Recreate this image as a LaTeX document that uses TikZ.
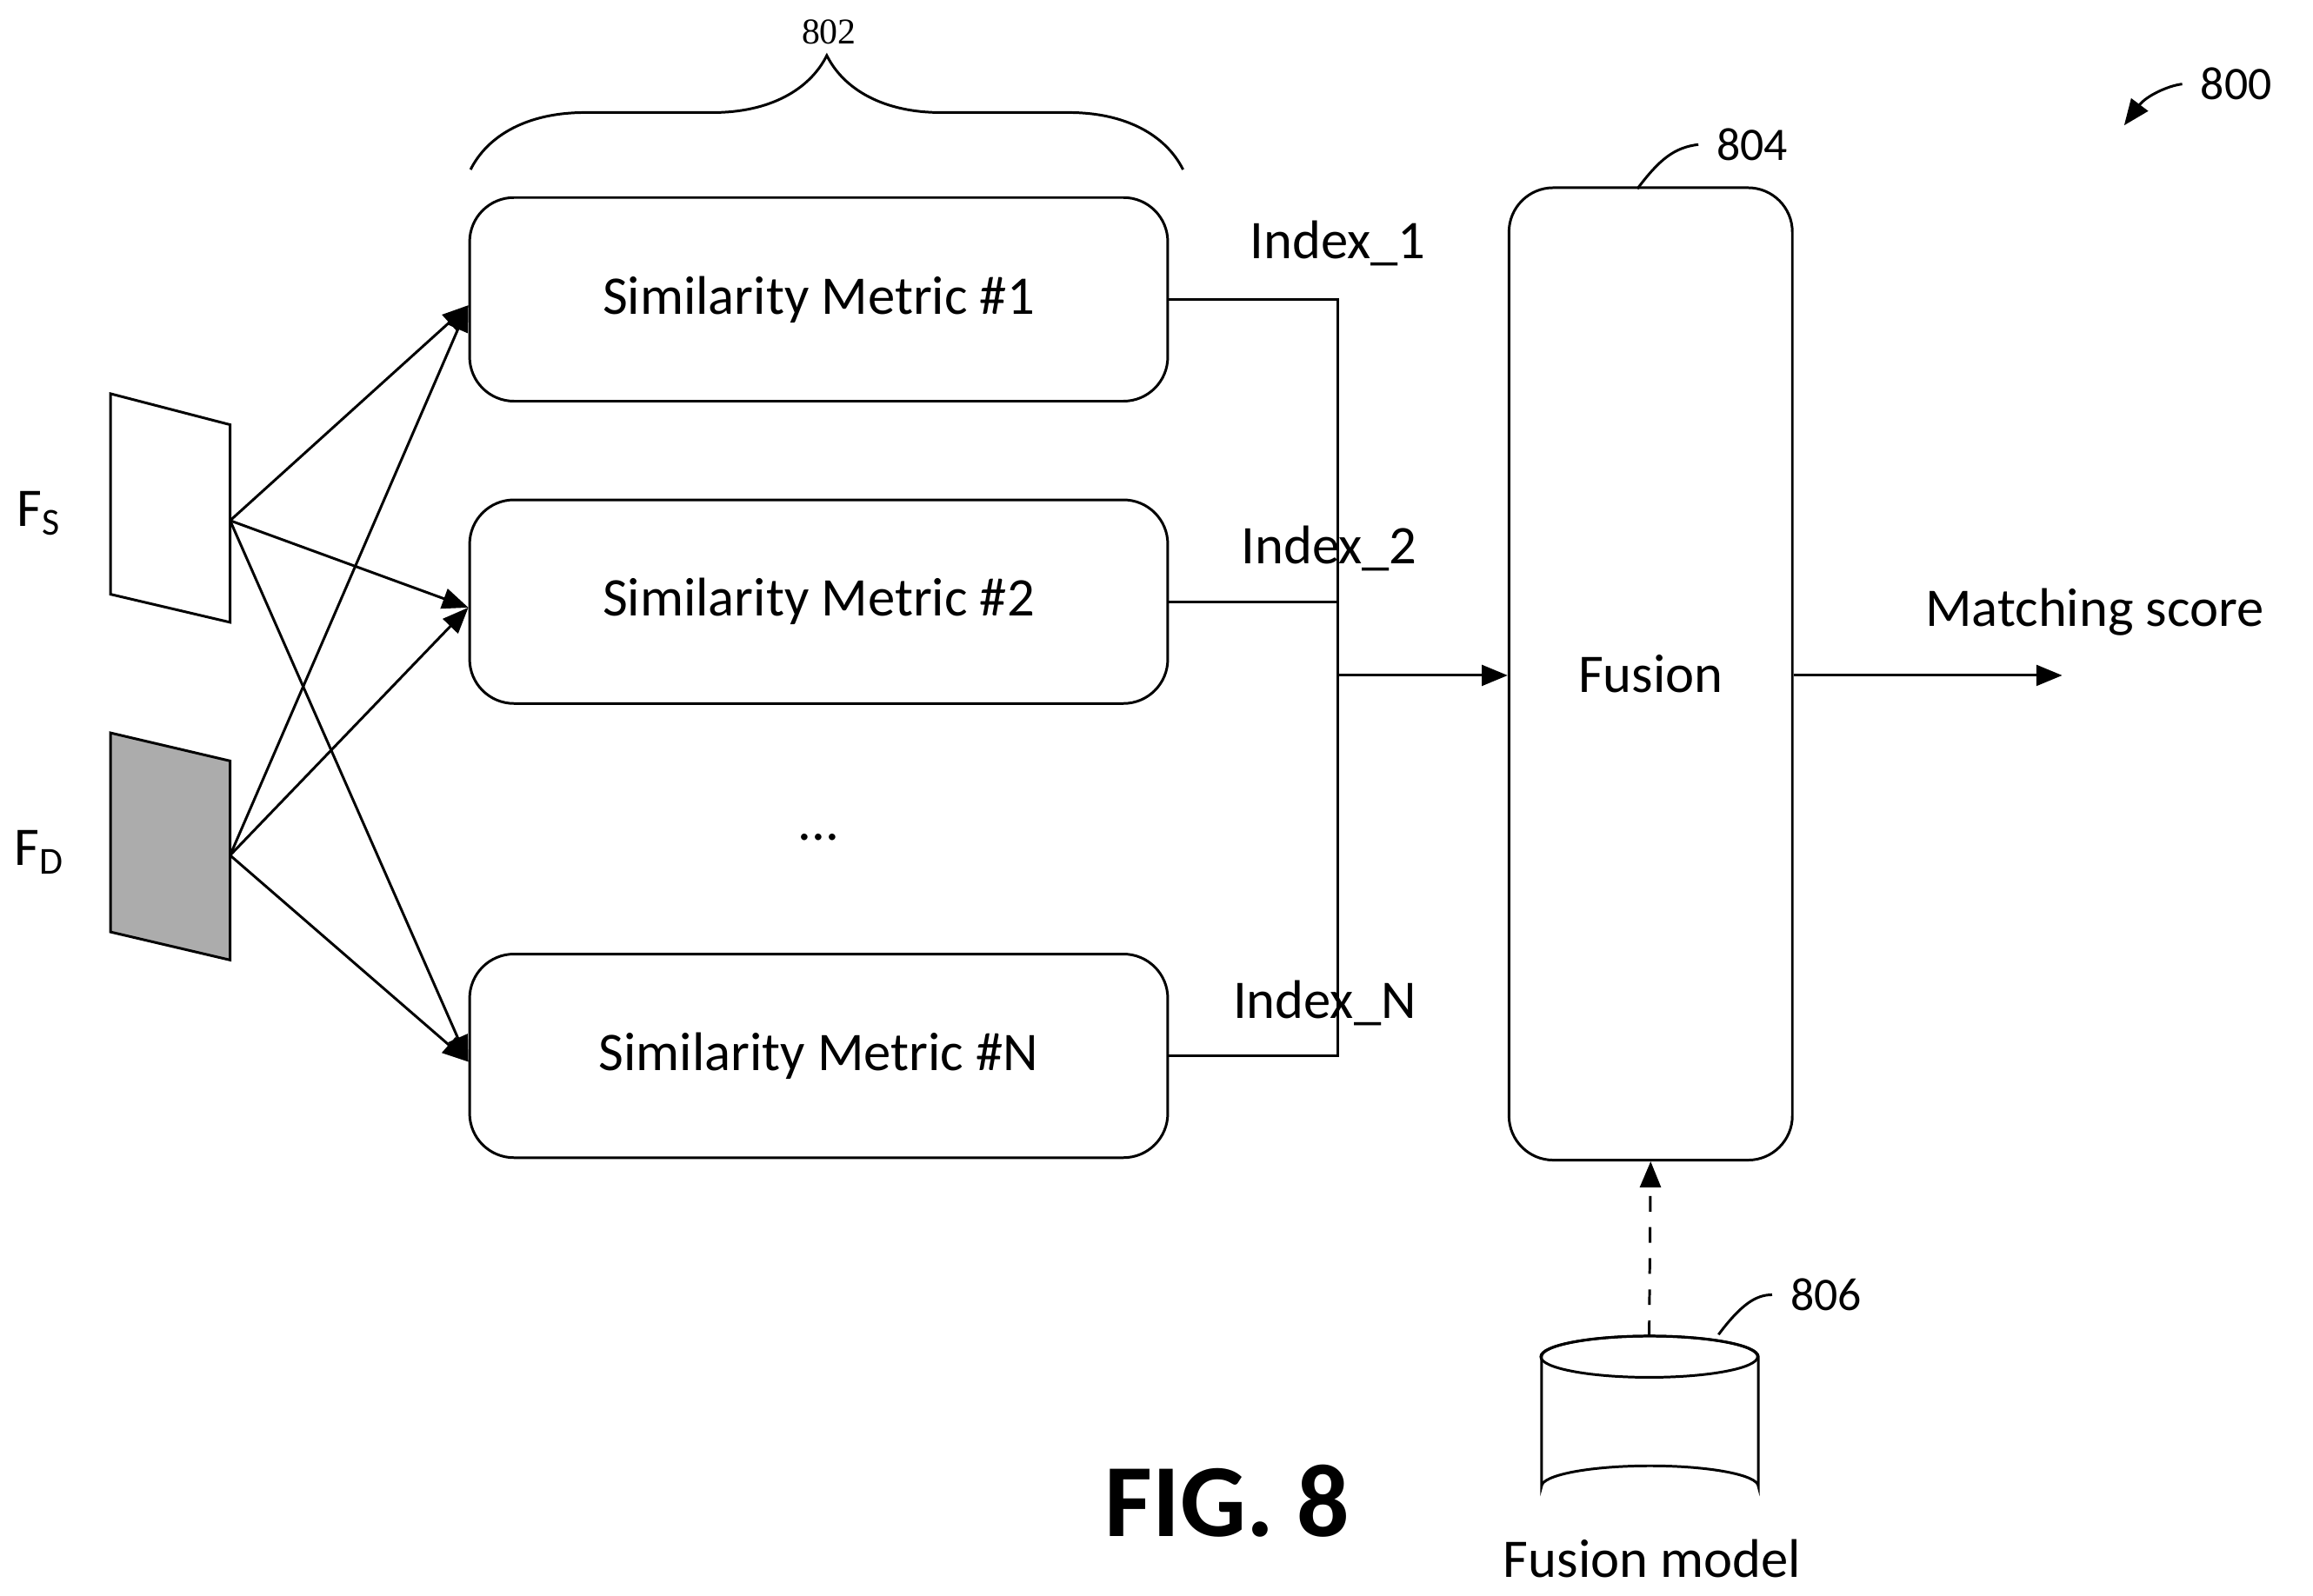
\documentclass[tikz,border=0pt]{standalone}
\usepackage{fontspec}
\setmainfont{Carlito}
\newfontfamily\seriffont{Liberation Serif}
\usetikzlibrary{arrows.meta, positioning, decorations.pathreplacing, calc}
\tikzset{
    metric/.style={draw, rounded corners=0.3cm, minimum width=4.73cm, minimum height=1.38cm, font=\fontsize{10.5}{12}\selectfont},
    plain/.style={font=\fontsize{10.5}{12}\selectfont},
    refnum/.style={font=\seriffont\fontsize{7}{8}\selectfont},
    feat/.style={draw},
    >={Triangle[length=5pt,width=4pt]},
}
\begin{document}
\begin{tikzpicture}[x=0.01cm, y=-0.01cm, line width=0.5pt]
    \useasboundingbox (0,0) rectangle (1568,1082);

    \node[metric] (m1) at (555,203) {Similarity Metric \#1};
    \node[metric] (m2) at (555,408) {Similarity Metric \#2};
    \node[metric] (mN) at (555,716) {Similarity Metric \#N};
    \node[plain] (dots) at (555,568) {...};
    \node[draw, rounded corners=0.3cm, minimum width=1.92cm, minimum height=6.59cm, plain] (fus) at (1119,457) {Fusion};

    % feature maps
    \draw[feat] (75,267) -- (156,288) -- (156,422) -- (75,403) -- cycle;
    \draw[feat, fill=gray!65] (75,497) -- (156,516) -- (156,651) -- (75,632) -- cycle;
    \coordinate (fs) at (156,353);
    \coordinate (fd) at (156,580);
    \node[plain] (fsl) at (27,348) {F\textsubscript{S}};
    \node[plain] (fdl) at (27,578) {F\textsubscript{D}};

    \foreach \m in {m1,m2,mN} {
      \draw[->] (fs) -- ($(\m.west)+(0,4)$);
      \draw[->] (fd) -- ($(\m.west)+(0,4)$);
    }

    % brace
    \draw[decorate, decoration={brace, amplitude=22pt}] (319,115) -- (802,115);
    \node[refnum] (b802) at (562,22) {802};

    % index lines
    \coordinate (j) at (907,458);
    \draw (m1.east) -- (907,203) -- (907,716) -- (mN.east);
    \draw (m2.east) -- (907,408);
    \draw[->] (j) -- (j -| fus.west);
    \node[plain] (i1) at (907,165) {Index\_1};
    \node[plain] (i2) at (901,372) {Index\_2};
    \node[plain] (iN) at (898,680) {Index\_N};

    % output
    \coordinate (out) at (1398,458);
    \draw[->] (fus.east |- out) -- (out);
    \node[plain] (ms) at (1420,415) {Matching score};

    % fusion model
    \coordinate (db) at (1118,906);
    \draw (1045,920) arc[start angle=180, end angle=360, x radius=73.5, y radius=14]
          -- (1192,1008) arc[start angle=0, end angle=-180, x radius=73.5, y radius=14] -- cycle;
    \draw (1118,920) ellipse[x radius=73.5, y radius=14];
    \draw[->, dashed] (db) -- (fus.south);
    \node[plain] (fm) at (1120,1057) {Fusion model};

    % reference numbers
    \node[refnum, font=\fontsize{9}{10}\selectfont] (r804) at (1188,98) {804};
    \draw (1110,128) .. controls (1125,108) and (1135,100) .. (r804.west);
    \node[refnum, font=\fontsize{9}{10}\selectfont] (r806) at (1238,878) {806};
    \draw (1165,905) .. controls (1180,885) and (1190,878) .. (r806.west);
    \node[refnum, font=\fontsize{9}{10}\selectfont] (r800) at (1516,57) {800};
    \draw[->] (r800.west) .. controls (1470,58) and (1455,65) .. (1440,85);

    \node[font=\bfseries\fontsize{20}{22}\selectfont] (fig) at (832,1018) {FIG. 8};
\end{tikzpicture}
\end{document}
